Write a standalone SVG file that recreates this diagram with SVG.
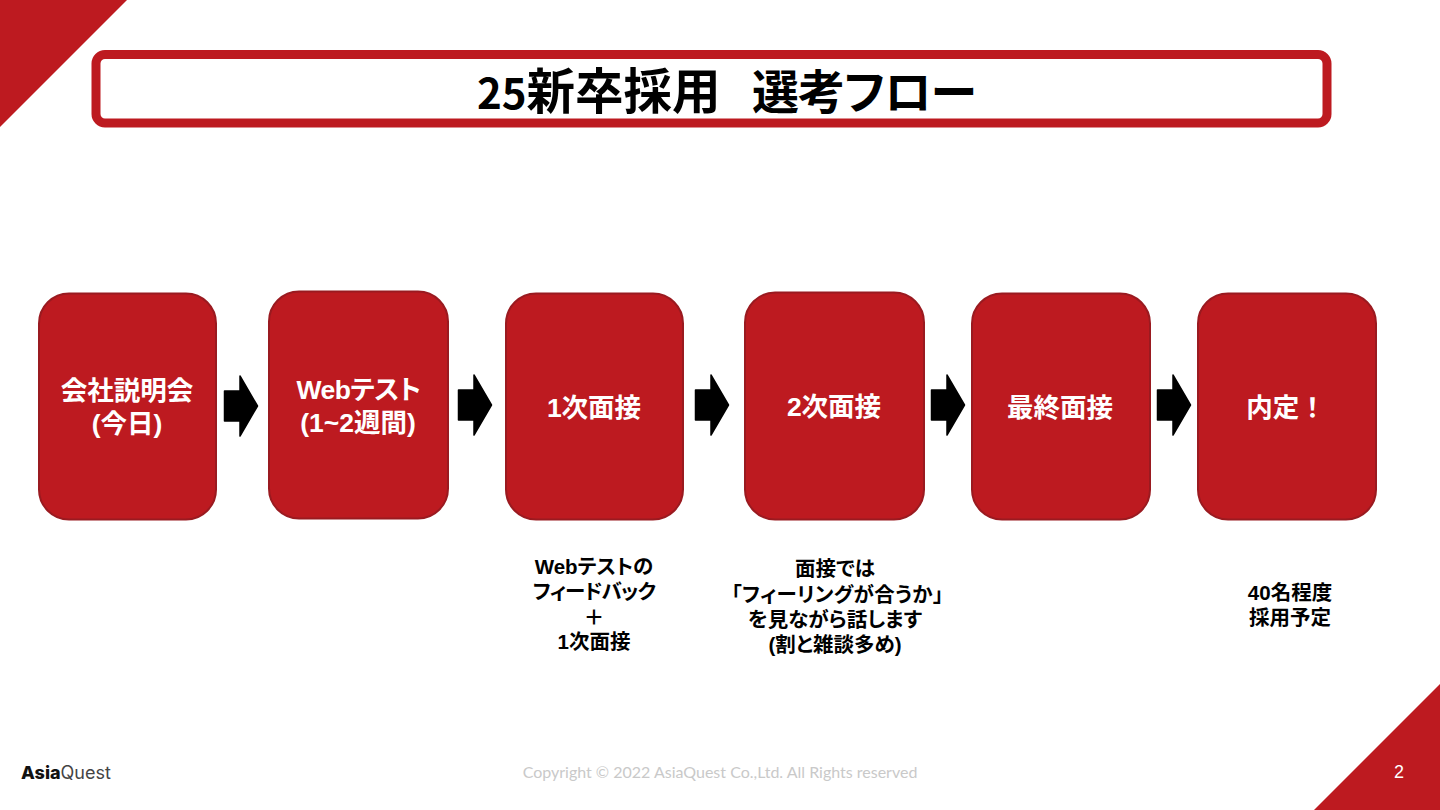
<svg xmlns="http://www.w3.org/2000/svg" width="1440" height="810" viewBox="0 0 1440 810">
<style>
.box{fill:#bd1a20;stroke:#9a1a20;stroke-width:2}
.lab{font-family:"Liberation Sans","Noto Sans CJK JP",sans-serif;font-weight:700;font-size:26.5px;fill:#fff;text-anchor:middle;font-feature-settings:"palt"}
.note{font-family:"Liberation Sans","Noto Sans CJK JP",sans-serif;font-weight:700;font-size:20.5px;fill:#000;text-anchor:middle;font-feature-settings:"palt"}
.ttl{font-family:"Noto Sans CJK JP",sans-serif;font-weight:700;font-size:47px;fill:#000;font-feature-settings:"palt"}
.arr{fill:#000}
</style>
<defs><polygon id="a" points="0.5,-15 16,-15 16,-30 33.5,0 16,30 16,15 0.5,15" class="arr" stroke="#000" stroke-width="1.5" stroke-linejoin="round"/></defs>
<rect width="1440" height="810" fill="#fff"/>
<polygon points="0,0 127,0 0,127" fill="#bd1a20"/>
<polygon points="1440,684 1440,810 1314,810" fill="#bd1a20"/>
<g id="title"><rect x="96" y="54.500" width="1231" height="68.500" rx="9" fill="#fff" stroke="#bd1a20" stroke-width="9"/>
<text class="ttl" x="477" y="109"><tspan font-size="42">25</tspan><tspan font-size="48.500">新卒採用</tspan></text><text class="ttl" x="752" y="109" letter-spacing="-1">選考フロー</text></g>
<g id="connectors">
<use href="#a" x="224" y="406"/><use href="#a" x="458" y="405"/><use href="#a" x="695" y="405"/><use href="#a" x="931" y="405"/><use href="#a" x="1157" y="405"/>
</g>
<g id="n1"><rect class="box" x="39" y="293.500" width="177" height="226" rx="30"/><text class="lab" x="127" y="400">会社説明会</text><text class="lab" x="127" y="433">(今日)</text></g>
<g id="n2"><rect class="box" x="269" y="291.500" width="179" height="227" rx="30"/><text class="lab" x="358.500" y="399" letter-spacing="-0.500">Webテスト</text><text class="lab" x="358" y="432">(1~2週間)</text></g>
<g id="n3"><rect class="box" x="506" y="293.500" width="177" height="226" rx="30"/><text class="lab" x="594" y="417">1次面接</text></g>
<g id="n4"><rect class="box" x="745" y="292.500" width="179" height="227" rx="30"/><text class="lab" x="834" y="416">2次面接</text></g>
<g id="n5"><rect class="box" x="972" y="293.500" width="178" height="226" rx="30"/><text class="lab" x="1060" y="417">最終面接</text></g>
<g id="n6"><rect class="box" x="1198" y="293.500" width="178" height="226" rx="30"/><text class="lab" x="1286" y="417" style="font-feature-settings:normal">内定！</text></g>
<g id="notes">
<text class="note" x="594" y="574">Webテストの</text><text class="note" x="594" y="599" letter-spacing="-0.800">フィードバック</text><text class="note" x="594" y="625">＋</text><text class="note" x="594" y="649">1次面接</text>
<text class="note" x="835" y="576">面接では</text><text class="note" x="837.500" y="602" letter-spacing="0.300">「フィーリングが合うか」</text><text class="note" x="835" y="627">を見ながら話します</text><text class="note" x="835" y="652">(割と雑談多め)</text>
<text class="note" x="1290" y="600">40名程度</text><text class="note" x="1290" y="625">採用予定</text>
</g>
<g id="footer">
<text x="21" y="779" font-family="Inter,sans-serif" font-size="18" fill="#111"><tspan font-weight="800">Asia</tspan><tspan fill="#444" font-weight="400">Quest</tspan></text>
<text x="720" y="778" font-family="Lato,sans-serif" font-size="16" fill="#c9c9c9" text-anchor="middle">Copyright © 2022 AsiaQuest Co.,Ltd. All Rights reserved</text>
<text x="1399" y="778" font-family="'Liberation Sans',sans-serif" font-size="18" fill="#fff" text-anchor="middle">2</text>
</g>
</svg>
